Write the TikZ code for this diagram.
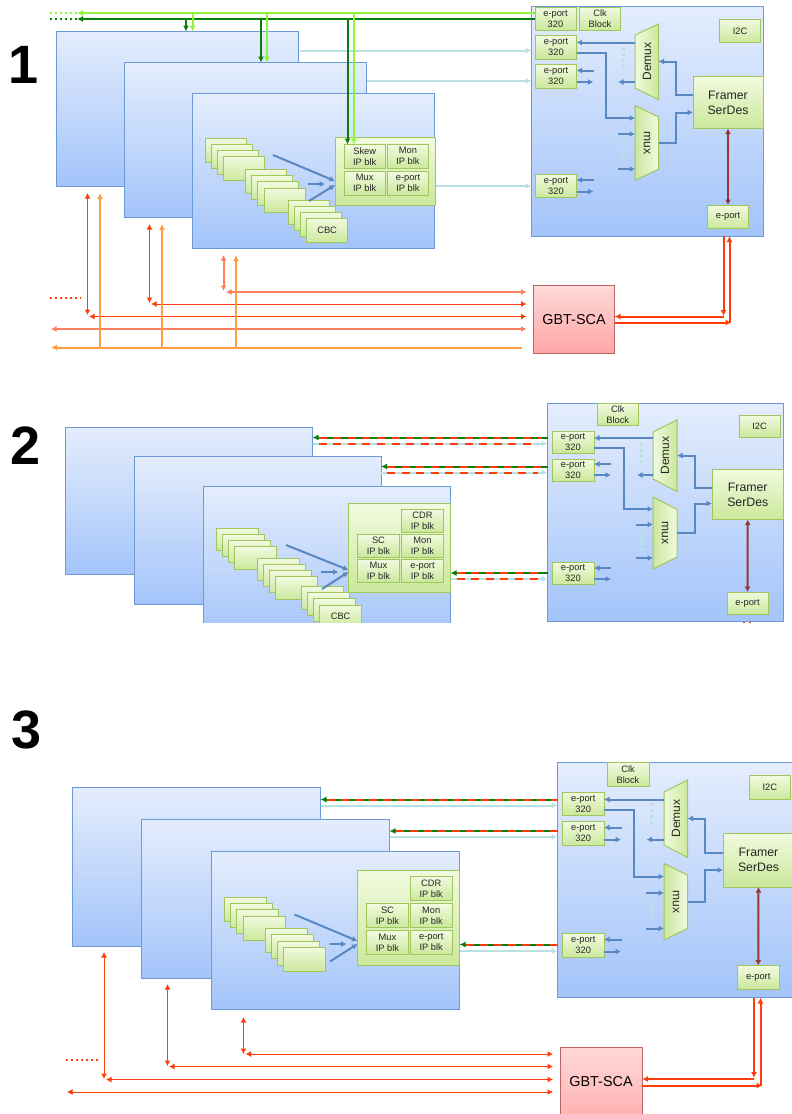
\documentclass[tikz,border=0pt]{standalone}
\usepackage{fontspec}
\setmainfont{Liberation Sans}
\usetikzlibrary{arrows.meta,calc}
\definecolor{panT}{HTML}{E4EDFD}
\definecolor{panB}{HTML}{A3C4FA}
\definecolor{panL}{HTML}{6C9BD8}
\definecolor{grnT}{HTML}{F1FADF}
\definecolor{grnB}{HTML}{CBE89C}
\definecolor{grnL}{HTML}{A0C65C}
\definecolor{lgr}{HTML}{8FF53A}
\definecolor{dgr}{HTML}{087F0A}
\definecolor{rdd}{HTML}{FF3C0C}
\definecolor{sal}{HTML}{FF7F60}
\definecolor{org}{HTML}{FF9C40}
\definecolor{tea}{HTML}{B9E0E3}
\definecolor{blu}{HTML}{5887C2}
\definecolor{brn}{HTML}{953735}
\tikzset{
  x=1pt,y=-1pt,
  panbox/.style={draw=panL,line width=1pt,top color=panT,bottom color=panB,inner sep=0pt,outer sep=0pt},
  grnbox/.style={draw=grnL,line width=1pt,top color=grnT,bottom color=grnB,inner sep=0pt,outer sep=0pt,align=center,text=black!85,font=\fontsize{9.3}{11}\selectfont},
  bigbox/.style={grnbox,font=\fontsize{12.3}{15}\selectfont},
  scabox/.style={draw=red!55!black!60,line width=1pt,top color=red!15,bottom color=red!35,inner sep=0pt,outer sep=0pt,font=\fontsize{14.4}{17}\selectfont},
  trapd/.style={draw=grnL,line width=1pt,left color=grnT,right color=grnB},
  trapm/.style={draw=grnL,line width=1pt,left color=grnB,right color=grnT},
  traptext/.style={font=\fontsize{12}{14}\selectfont,text=black!85,inner sep=0pt},
  numlab/.style={font=\fontsize{54}{54}\selectfont\bfseries,inner sep=0pt},
  bl/.style={blu,line width=2pt,-{Latex[length=5.5pt,width=6pt]}},
  br/.style={brn,line width=2pt,{Latex[length=5.5pt,width=6pt]}-{Latex[length=5.5pt,width=6pt]}},
  te/.style={tea,line width=2pt,-{Latex[length=6pt,width=6pt]}},
  lg/.style={lgr,line width=2pt,-{Latex[length=6pt,width=6pt]}},
  dg/.style={dgr,line width=2pt,-{Latex[length=6pt,width=6pt]}},
  dots/.style={line width=2pt,dash pattern=on 2pt off 3pt},
  tealdots/.style={tea,line width=3pt,dash pattern=on 3pt off 3pt},
  rr/.style={rdd,line width=1pt,{Latex[length=5.5pt,width=6pt]}-{Latex[length=5.5pt,width=6pt]}},
  ss/.style={sal,line width=2pt,{Latex[length=5.5pt,width=6pt]}-{Latex[length=5.5pt,width=6pt]}},
  oo/.style={org,line width=2pt,-{Latex[length=6pt,width=6pt]}},
  th/.style={rdd,line width=2pt,-{Latex[length=6pt,width=6pt]}},
  rdash/.style={rdd,line width=2pt,dash pattern=on 8pt off 6.6pt},
}
\newcommand{\panbx}[5]{\pgfmathsetmacro\cxx{(#2+#4)/2}\pgfmathsetmacro\cyy{(#3+#5)/2}\pgfmathsetmacro\wdd{#4-#2}\pgfmathsetmacro\htt{#5-#3}\node[panbox,minimum width=\wdd pt,minimum height=\htt pt] (#1) at (\cxx,\cyy) {};}
\newcommand{\grbx}[7][grnbox]{\pgfmathsetmacro\cxx{(#3+#5)/2}\pgfmathsetmacro\cyy{(#4+#6)/2}\pgfmathsetmacro\wdd{#5-#3}\pgfmathsetmacro\htt{#6-#4}\node[#1,minimum width=\wdd pt,minimum height=\htt pt] (#2) at (\cxx,\cyy) {#7};}
\newcommand{\chips}[6]{% prefix, x, y, w, h, last text
 \foreach \ii/\dx/\dy in {1/0/0,2/6.2/6.2,3/12.4/12.4}{\pgfmathsetmacro\xa{#2+\dx}\pgfmathsetmacro\ya{#3+\dy}\pgfmathsetmacro\xb{\xa+#4}\pgfmathsetmacro\yb{\ya+#5}\grbx{#1\ii}{\xa}{\ya}{\xb}{\yb}{}}
 \pgfmathsetmacro\xa{#2+18.6}\pgfmathsetmacro\ya{#3+18.6}\pgfmathsetmacro\xb{\xa+#4}\pgfmathsetmacro\yb{\ya+#5}\grbx{#1d}{\xa}{\ya}{\xb}{\yb}{#6}}
\begin{document}
\begin{tikzpicture}
\useasboundingbox (0,0) rectangle (792,1114);
\node[numlab] (n1) at (24,65) {1};
\node[numlab] (n2) at (26,446) {2};
\node[numlab] (n3) at (27,729.5) {3};
%% ---------- PANEL 1
\panbx{aA}{56.5}{31.5}{298.5}{186.5}
\panbx{aB}{124}{62.5}{366}{217.5}
\panbx{aC}{192.5}{93.5}{434.5}{248}
\chips{ag}{205}{138}{41}{24}{}
\chips{ah}{245.5}{169.5}{41}{24}{}
\chips{ai}{288}{200}{41}{24}{CBC}
\grbx{abk}{335}{137}{435}{205}{}
\grbx{as}{344.5}{144.5}{385}{168}{Skew\\IP blk}
\grbx{am}{387.5}{144.5}{428.5}{168}{Mon\\IP blk}
\grbx{ax}{344.5}{171.5}{385}{195}{Mux\\IP blk}
\grbx{ae}{387.5}{171.5}{428.5}{195}{e-port\\IP blk}
\coordinate (aq1) at (273,155);\coordinate (aq2) at (308,184);\coordinate (aq3) at (309,201);
\draw[bl] (aq1) -- (abk.west |- 0,181);
\draw[bl] (aq2) -- ++(17,0);
\draw[bl] (aq3) -- (abk.west |- 0,185);
\panbx{aR}{531.5}{6.5}{763}{236}
\grbx{ae1}{535}{7}{576}{30.5}{e-port\\320}
\grbx{ack}{579.5}{7}{620.5}{30.5}{Clk\\Block}
\grbx{ai2}{719.5}{19.5}{760.5}{42.5}{I2C}
\grbx{ae2}{535.5}{35.5}{576.5}{59}{e-port\\320}
\grbx{ae3}{535.5}{64.5}{576.5}{88}{e-port\\320}
\grbx{ae4}{535.5}{174}{576.5}{197.5}{e-port\\320}
\grbx[bigbox]{afr}{693}{76.5}{763}{128.5}{Framer\\SerDes}
\grbx{aeb}{707.5}{205}{748.5}{228.5}{e-port}
\draw[trapd] (635,35)--(658.5,24)--(658.5,99.5)--(635,88)--cycle;
\draw[trapm] (635,105.5)--(658.5,117)--(658.5,169)--(635,180.5)--cycle;
\node[traptext,rotate=90] (adm) at (647,61.5) {Demux};
\node[traptext,rotate=-90] (amx) at (647,143) {mux};
\coordinate (adw) at (635,61);\coordinate (ade) at (658.5,61);\coordinate (amw) at (635,143);\coordinate (ame) at (658.5,143);
\draw[bl] (adw |- 0,42.5) -- (ae2.east |- 0,42.5);
\draw[bl] (ae2.east |- 0,52.5) -- ++(29,0) |- (amw |- 0,118);
\draw[tealdots] (623,47) -- (623,70);
\draw[bl] (adw |- 0,82) -- ++(-17,0);
\draw[bl] (ae3.east |- 0,70.5) ++(17,0) -- (ae3.east |- 0,70.5);
\draw[bl] (ae3.east |- 0,82) -- ++(17,0);
\draw[bl] (618,134) -- (amw |- 0,134);
\draw[tealdots] (623,140) -- (623,162);
\draw[bl] (618,169) -- (amw |- 0,169);
\draw[bl] (ae4.east |- 0,180) ++(17,0) -- (ae4.east |- 0,180);
\draw[bl] (ae4.east |- 0,191.5) -- ++(17,0);
\draw[bl] (afr.west |- 0,95) -- ++(-17,0) |- (ade |- 0,61.5);
\draw[bl] (ame) -- ++(17.5,0) |- (afr.west |- 0,112.5);
\draw[br] (afr.south) -- (aeb.north);
\coordinate (ate1) at (299.5,50.5);\coordinate (ate2) at (367,81);\coordinate (ate3) at (435.5,186);
\draw[te] (ate1) -- (aR.west |- ate1);
\draw[te] (ate2) -- (aR.west |- ate2);
\draw[te] (ate3) -- (aR.west |- ate3);
% top green
\coordinate (alg) at (77,13);\coordinate (adg) at (77,19);
\draw[lg] (ae1.west |- alg) -- (alg);
\draw[dg] (ae1.west |- adg) -- (adg);
\draw[lgr,dots] (alg) -- ++(-28,0);
\draw[dgr,dots] (adg) -- ++(-28,0);
\draw[lg] (192.5,0 |- alg) -- (192.5,0 |- aA.north);
\draw[dg] (186,0 |- adg) -- (186,0 |- aA.north);
\draw[lg] (267,0 |- alg) -- (267,0 |- aB.north);
\draw[dg] (261,0 |- adg) -- (261,0 |- aB.north);
\draw[lg] (354,0 |- alg) -- (354,0 |- as.north);
\draw[dg] (347.5,0 |- adg) -- (347.5,0 |- as.north);
% bottom
\node[scabox,minimum width=81pt,minimum height=68pt] (agb) at (574,319.5) {GBT-SCA};
\coordinate (ar1) at (87.5,193);\coordinate (ar2) at (149.5,224);\coordinate (ar3) at (223.5,255);
\draw[rr] (ar1) -- ++(0,122);
\draw[rr] (ar2) -- ++(0,79);
\draw[ss] (ar3) -- ++(0,36);
\draw[ss,shorten >=7pt] (226,292) -- (agb.west |- 0,292);
\draw[rr,shorten >=7pt] (151,304) -- (agb.west |- 0,304);
\draw[rr,shorten >=7pt] (89,316.5) -- (agb.west |- 0,316.5);
\draw[ss,shorten >=7pt] (51,329) -- (agb.west |- 0,329);
\draw[rdd,dots] (50,298) -- ++(31,0);
\coordinate (aoe) at (522,347.5);\coordinate (aol) at (51,347.5);
\draw[oo] (aoe) -- (aol);
\draw[oo] (100,0 |- aoe) -- ++(0,-154.5);
\draw[oo] (162,0 |- aoe) -- ++(0,-123.5);
\draw[oo] (236,0 |- aoe) -- ++(0,-92.5);
\draw[th] (aR.south -| 723.5,0) -- (723.5,316);
\draw[th] (729.5,322.5) -- (aR.south -| 729.5,0);
\draw[th] (723.5,316.5) -- (agb.east |- 0,316.5);
\draw[th] (agb.east |- 0,322.5) -- (731.5,322.5);
%% ---------- PANEL 2
\begin{scope}
\clip (0,395) rectangle (792,622.5);
\panbx{bA}{65.5}{427.5}{312.5}{574.5}
\panbx{bB}{134}{456.5}{381}{604}
\panbx{bC}{203.5}{486}{450.5}{640}
\chips{bg}{216}{528}{42}{22.5}{}
\chips{bh}{257.2}{558}{42}{22.5}{}
\chips{bi}{301}{586.5}{42}{22.5}{CBC}
\end{scope}
\grbx{bbk}{348.5}{503.5}{450}{592}{}
\grbx{bc}{401.5}{509.5}{443.5}{532}{CDR\\IP blk}
\grbx{bs}{357.5}{534.5}{399.5}{557}{SC\\IP blk}
\grbx{bm}{401.5}{534.5}{443.5}{557}{Mon\\IP blk}
\grbx{bx}{357.5}{559.5}{399.5}{582}{Mux\\IP blk}
\grbx{be}{401.5}{559.5}{443.5}{582}{e-port\\IP blk}
\coordinate (bq1) at (286,545);\coordinate (bq2) at (321,572);\coordinate (bq3) at (322,589);
\draw[bl] (bq1) -- (bbk.west |- 0,570);
\draw[bl] (bq2) -- ++(17.5,0);
\draw[bl] (bq3) -- (bbk.west |- 0,572);
\panbx{bR}{547.5}{403.5}{783.5}{621.5}
\grbx{bck}{597}{403.5}{638.5}{425.5}{Clk\\Block}
\grbx{bi2}{739}{415.5}{780}{437}{I2C}
\grbx{be2}{552}{431}{594}{453}{e-port\\320}
\grbx{be3}{552}{459}{594}{481}{e-port\\320}
\grbx{be4}{552}{562.5}{594}{584.5}{e-port\\320}
\grbx[bigbox]{bfr}{712}{469.5}{783.5}{519.5}{Framer\\SerDes}
\grbx{beb}{727}{592}{768}{614}{e-port}
\draw[trapd] (653,432)--(677,420)--(677,491.5)--(653,479)--cycle;
\draw[trapm] (653,497)--(677,509.5)--(677,557)--(653,569)--cycle;
\node[traptext,rotate=90] (bdm) at (665,455.5) {Demux};
\node[traptext,rotate=-90] (bmx) at (665,533) {mux};
\coordinate (bdw) at (653,455);\coordinate (bde) at (677,455);\coordinate (bmw) at (653,533);\coordinate (bme) at (677,533);
\draw[bl] (bdw |- 0,438) -- (be2.east |- 0,438);
\draw[bl] (be2.east |- 0,447.5) -- ++(29.5,0) |- (bmw |- 0,509);
\draw[tealdots] (641.5,443) -- (641.5,463);
\draw[bl] (bdw |- 0,475) -- ++(-16,0);
\draw[bl] (be3.east |- 0,464) ++(17,0) -- (be3.east |- 0,464);
\draw[bl] (be3.east |- 0,475) -- ++(17,0);
\draw[bl] (636,524.5) -- (bmw |- 0,524.5);
\draw[tealdots] (641.5,530) -- (641.5,553);
\draw[bl] (636,558) -- (bmw |- 0,558);
\draw[bl] (be4.east |- 0,568) ++(17,0) -- (be4.east |- 0,568);
\draw[bl] (be4.east |- 0,579) -- ++(17,0);
\draw[bl] (bfr.west |- 0,487.5) -- ++(-17.5,0) |- (bde |- 0,455.5);
\draw[bl] (bme) -- ++(17.5,0) |- (bfr.west |- 0,503.5);
\draw[br] (bfr.south) -- (beb.north);
\foreach \yy/\bd/\yt in {437.5/bA/443.5,466.5/bB/472.5,573/bC/579}{
 \draw[dg] (bR.west |- 0,\yy) -- (\bd.east |- 0,\yy);
 \draw[rdash,shorten >=6pt] (\bd.east |- 0,\yy) ++(6,0) -- (bR.west |- 0,\yy);
 \draw[te] (\bd.east |- 0,\yt) -- (bR.west |- 0,\yt);
 \draw[rdash] (\bd.east |- 0,\yt) ++(6,0) -- ([xshift=-10pt]bR.west |- 0,\yt);
}
\coordinate (br1) at (743.5,621.8);\coordinate (br2) at (749.5,621.8);
\draw[rdd,line width=2pt] (br1) -- ++(0,1.2);
\draw[rdd,line width=2pt] (br2) -- ++(0,1.2);
%% ---------- PANEL 3
\panbx{cA}{72}{787.5}{320.5}{946}
\panbx{cB}{141.5}{819}{389.5}{978}
\panbx{cC}{211.5}{851.5}{459.5}{1009.5}
\chips{cg}{224.5}{897.5}{42}{24}{}
\chips{ch}{265.3}{928.7}{42}{24}{}
\grbx{cbk}{357.5}{870.5}{459}{965.5}{}
\grbx{cc}{410}{876.5}{452.5}{900.5}{CDR\\IP blk}
\grbx{cs}{366.5}{903.5}{408.5}{927.5}{SC\\IP blk}
\grbx{cm}{410}{903.5}{452.5}{927.5}{Mon\\IP blk}
\grbx{cx}{366.5}{930.5}{408.5}{954.5}{Mux\\IP blk}
\grbx{ce}{410}{930.5}{452.5}{954.5}{e-port\\IP blk}
\coordinate (cq1) at (294.5,914.5);\coordinate (cq2) at (330,944);\coordinate (cq3) at (330,961.5);
\draw[bl] (cq1) -- (cbk.west |- 0,941);
\draw[bl] (cq2) -- ++(16.5,0);
\draw[bl] (cq3) -- (cbk.west |- 0,944);
\panbx{cR}{557.5}{762.5}{812}{997.5}
\grbx{cck}{607}{762.5}{649}{786.5}{Clk\\Block}
\grbx{ci2}{749.5}{775.5}{790}{799.5}{I2C}
\grbx{ce2}{562.5}{792}{604}{815.5}{e-port\\320}
\grbx{ce3}{562.5}{821.5}{604}{845.5}{e-port\\320}
\grbx{ce4}{562.5}{933.5}{604}{957.5}{e-port\\320}
\grbx[bigbox]{cfr}{723}{833.5}{794}{887}{Framer\\SerDes}
\grbx{ceb}{737.5}{965.5}{779}{989}{e-port}
\draw[trapd] (664,792)--(687.5,780)--(687.5,857.5)--(664,845)--cycle;
\draw[trapm] (664,863.5)--(687.5,875)--(687.5,928.5)--(664,940)--cycle;
\node[traptext,rotate=90] (cdm) at (676,818.5) {Demux};
\node[traptext,rotate=-90] (cmx) at (676,902) {mux};
\coordinate (cdw) at (664,818);\coordinate (cde) at (687.5,818);\coordinate (cmw) at (664,902);\coordinate (cme) at (687.5,902);
\draw[bl] (cdw |- 0,799.5) -- (ce2.east |- 0,799.5);
\draw[bl] (ce2.east |- 0,810) -- ++(29.5,0) |- (cmw |- 0,876.5);
\draw[tealdots] (651.7,803) -- (651.7,827);
\draw[bl] (cdw |- 0,839.5) -- ++(-17.5,0);
\draw[bl] (ce3.east |- 0,827.5) ++(17.5,0) -- (ce3.east |- 0,827.5);
\draw[bl] (ce3.east |- 0,839.5) -- ++(17,0);
\draw[bl] (645.7,893) -- (cmw |- 0,893);
\draw[tealdots] (651.7,898) -- (651.7,922);
\draw[bl] (645.7,928.5) -- (cmw |- 0,928.5);
\draw[bl] (ce4.east |- 0,939.5) ++(17.5,0) -- (ce4.east |- 0,939.5);
\draw[bl] (ce4.east |- 0,951.5) -- ++(17,0);
\draw[bl] (cfr.west |- 0,852.5) -- ++(-17.7,0) |- (cde |- 0,818.5);
\draw[bl] (cme) -- ++(17.7,0) |- (cfr.west |- 0,870);
\draw[br] (cfr.south) -- (ceb.north);
\foreach \yy/\bd/\yt in {799.5/cA/805.5,831/cB/837,944.5/cC/951}{
 \draw[te] (\bd.east |- 0,\yt) -- (cR.west |- 0,\yt);
 \draw[dg] (cR.west |- 0,\yy) -- (\bd.east |- 0,\yy);
 \draw[rdash,dash pattern=on 8pt off 6pt] (\bd.east |- 0,\yy) ++(6,0) -- (cR.west |- 0,\yy);
}
\node[scabox,minimum width=82pt,minimum height=90pt] (cgb) at (601,1092) {};
\node[font=\fontsize{14.4}{17}\selectfont,inner sep=0pt] (cgt) at (601,1082) {GBT-SCA};
\coordinate (cr1) at (104,952);\coordinate (cr2) at (167.5,984);\coordinate (cr3) at (243.5,1017);
\draw[rr] (cr1) -- ++(0,127);
\draw[rr] (cr2) -- ++(0,82);
\draw[rr] (cr3) -- ++(0,37);
\draw[rr,shorten >=7pt] (245.5,1054) -- (cgb.west |- 0,1054);
\draw[rr,shorten >=7pt] (169,1066.5) -- (cgb.west |- 0,1066.5);
\draw[rr,shorten >=7pt] (106,1079.5) -- (cgb.west |- 0,1079.5);
\draw[rr,shorten >=7pt] (67,1092) -- (cgb.west |- 0,1092);
\draw[rdd,dots] (66,1060) -- ++(32,0);
\draw[th] (cR.south -| 754,0) -- (754,1078);
\draw[th] (760.5,1085.5) -- (cR.south -| 760.5,0);
\draw[th] (754,1079) -- (cgb.east |- 0,1079);
\draw[th] (cgb.east |- 0,1085.5) -- (762.5,1085.5);
\end{tikzpicture}
\end{document}
